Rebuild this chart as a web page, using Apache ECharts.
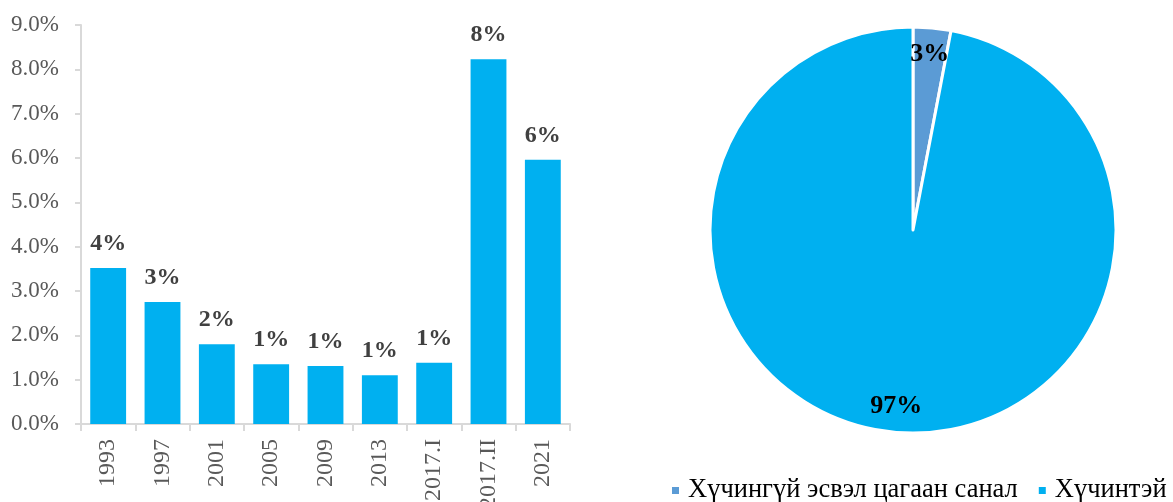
<!DOCTYPE html>
<html>
<head>
<meta charset="utf-8">
<script src="https://cdn.jsdelivr.net/npm/echarts@6/dist/echarts.min.js"></script>
<style>
  html, body { margin: 0; padding: 0; background: #fff; }
  #chart { width: 1173px; height: 502px; }
</style>
</head>
<body>
<div id="chart"></div>
<script>
// bar chart data
var years = ['1993', '1997', '2001', '2005', '2009', '2013', '2017.I', '2017.II', '2021'];
var invalidShare = [3.52, 2.75, 1.8, 1.35, 1.31, 1.1, 1.38, 8.23, 5.96];

// pie data (2021)
var pieNames = ['Хүчингүй эсвэл цагаан санал', 'Хүчинтэй'];
var pieValues = [3, 97];
var pieColors = ['#5B9BD5', '#00B0F0'];

var serif = '"Liberation Serif", "DejaVu Serif", serif';

var chart = echarts.init(document.getElementById('chart'));

var pieData = pieNames.map(function (n, i) {
    return { name: n, value: pieValues[i], itemStyle: { color: pieColors[i] } };
});

var option = {
    animation: false,
    textStyle: { fontFamily: serif },
    grid: { left: 81, right: 603, top: 25, bottom: 78, containLabel: false, outerBoundsMode: 'none' },
    xAxis: {
        type: 'category',
        data: years,
        axisLine: { lineStyle: { color: '#D9D9D9', width: 2 } },
        axisTick: { show: true, length: 7, lineStyle: { color: '#D9D9D9', width: 2 } },
        axisLabel: { rotate: 90, color: '#595959', fontSize: 24, fontFamily: serif, margin: 15 }
    },
    yAxis: {
        type: 'value',
        min: 0,
        max: 9,
        interval: 1,
        axisLine: { show: true, lineStyle: { color: '#D9D9D9', width: 2 } },
        axisTick: { show: true, length: 6, lineStyle: { color: '#D9D9D9', width: 2 } },
        splitLine: { show: false },
        axisLabel: {
            color: '#595959', fontSize: 23, fontFamily: serif, margin: 22,
            formatter: function (v) { return v.toFixed(1) + '%'; }
        }
    },
    legend: {
        data: pieNames,
        left: 665,
        top: 472,
        width: 700,
        icon: 'rect',
        itemWidth: 9,
        itemHeight: 9,
        itemGap: 19,
        textStyle: { fontSize: 26.5, color: '#000', fontFamily: serif, padding: [0, 0, 0, 3] }
    },
    series: [
        {
            type: 'bar',
            data: invalidShare,
            barWidth: '66%',
            itemStyle: { color: '#00B0F0' },
            label: {
                show: true,
                position: 'top',
                distance: 12,
                color: '#404040',
                fontSize: 24,
                fontWeight: 'bold',
                fontFamily: serif,
                formatter: function (p) { return Math.round(p.value) + '%'; }
            }
        },
        {
            type: 'pie',
            center: [913, 230],
            radius: [0, 203],
            startAngle: 90,
            clockwise: true,
            data: pieData,
            itemStyle: { borderColor: '#fff', borderWidth: 3 },
            label: { show: false },
            labelLine: { show: false }
        },
        {
            // transparent ring used only to place labels near the rim
            type: 'pie',
            center: [913, 230],
            radius: [145, 203],
            startAngle: 90,
            clockwise: true,
            silent: true,
            data: pieData.map(function (d) {
                return { name: d.name, value: d.value, itemStyle: { color: 'rgba(0,0,0,0)' } };
            }),
            itemStyle: { borderWidth: 0 },
            label: {
                show: true,
                position: 'inside',
                color: '#000',
                fontSize: 26,
                fontWeight: 'bold',
                fontFamily: serif,
                formatter: function (p) { return p.value + '%'; }
            },
            labelLine: { show: false }
        }
    ]
};

chart.setOption(option);
</script>
</body>
</html>
